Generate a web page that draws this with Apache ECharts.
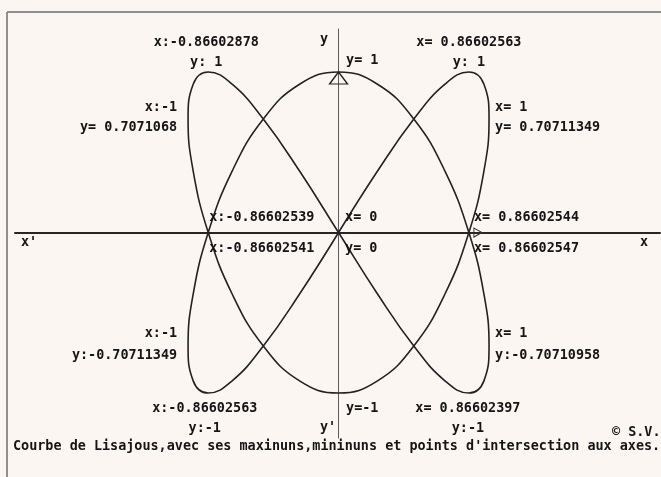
<!DOCTYPE html>
<html>
<head>
<meta charset="utf-8">
<style>
html,body{margin:0;padding:0;background:#fcf6f3;}
#c{width:661px;height:477px;}
</style>
<script src="https://cdn.jsdelivr.net/npm/echarts@6/dist/echarts.min.js"></script>
</head>
<body>
<div id="c"></div>
<script>
// Lissajous curve points (x, y in axis units)
const curveX = [0, 0.259, 0.5, 0.707, 0.866, 0.966, 1, 0.966, 0.866, 0.707, 0.5, 0.259,
  0, -0.259, -0.5, -0.707, -0.866, -0.966, -1, -0.966, -0.866, -0.707, -0.5, -0.259,
  0, 0.259, 0.5, 0.707, 0.866, 0.966, 1, 0.966, 0.866, 0.707, 0.5, 0.259,
  0, -0.259, -0.5, -0.707, -0.866, -0.966, -1, -0.966, -0.866, -0.707, -0.5, -0.259, 0];
const curveY = [0, 0.383, 0.707, 0.924, 1, 0.924, 0.707, 0.383, 0, -0.383, -0.707, -0.924,
  -1, -0.924, -0.707, -0.383, 0, 0.383, 0.707, 0.924, 1, 0.924, 0.707, 0.383,
  0, -0.383, -0.707, -0.924, -1, -0.924, -0.707, -0.383, 0, 0.383, 0.707, 0.924,
  1, 0.924, 0.707, 0.383, 0, -0.383, -0.707, -0.924, -1, -0.924, -0.707, -0.383, 0];

// Annotated points (maxima, minima, axis intersections)
const markX = [-0.866, 0, 0.866, -1, 1, -0.866, 0, 0.866, -1, 1, -0.866, 0, 0.866];
const markY = [1, 1, 1, 0.707, 0.707, 0, 0, 0, -0.707, -0.707, -1, -1, -1];
const markText = [
  "x:-0.86602878\ny: 1",
  "y= 1",
  "x= 0.86602563\ny: 1",
  "x:-1\ny= 0.7071068",
  "x= 1\ny= 0.70711349",
  "x:-0.86602539\nx:-0.86602541",
  "x= 0\ny= 0",
  "x= 0.86602544\nx= 0.86602547",
  "x:-1\ny:-0.70711349",
  "x= 1\ny:-0.70710958",
  "x:-0.86602563\ny:-1",
  "y=-1",
  "x= 0.86602397\ny:-1"
];
const axisNames = ["x'", "x", "y", "y'"];
const credit = "© S.V.";
const caption = "Courbe de Lisajous,avec ses maxinuns,mininuns et points d'intersection aux axes.";

// label layout: [align, verticalAlign, dx, dy, lineHeight]
const markLayout = [
  ['center', 'bottom', -2, 0, 20],
  ['left', 'middle', 7.5, -12, 20],
  ['center', 'bottom', 0, 0, 20],
  ['right', 'middle', -11, -2, 20],
  ['left', 'middle', 6, -2, 20],
  ['left', 'middle', 1, 0, 31],
  ['left', 'middle', 6.5, 0, 31],
  ['left', 'middle', 5, 0, 31],
  ['right', 'middle', -11, -2, 22],
  ['left', 'middle', 6, -2, 22],
  ['center', 'top', -3.5, 5, 20],
  ['left', 'middle', 7.5, 15, 20],
  ['center', 'top', -1, 5, 20]
];

const FONT = '"DejaVu Sans Mono", "Liberation Mono", monospace';
const INK = '#151515';
const FS = 13.45;

const chart = echarts.init(document.getElementById('c'), null, {renderer: 'canvas'});

const curveData = curveX.map((x, i) => [x, curveY[i]]);
const markData = markX.map((x, i) => ({
  value: [x, markY[i]],
  label: {
    formatter: markText[i],
    align: markLayout[i][0],
    verticalAlign: markLayout[i][1],
    offset: [markLayout[i][2], markLayout[i][3]],
    lineHeight: markLayout[i][4]
  }
}));

const txt = (text, x, y, extra) => ({
  type: 'text', x: x, y: y, silent: true,
  style: Object.assign({text: text, font: 'bold ' + FS + 'px ' + FONT, fill: INK, verticalAlign: 'middle', align: 'left'}, extra || {})
});

chart.setOption({
  backgroundColor: '#fcf6f3',
  animation: false,
  grid: {left: 15, right: 1, top: 29, bottom: 39},
  xAxis: {
    type: 'value', min: -2.15, max: 2.136,
    axisLine: {onZero: true, lineStyle: {color: '#262626', width: 2}},
    axisTick: {show: false}, axisLabel: {show: false}, splitLine: {show: false}
  },
  yAxis: {
    type: 'value', min: -1.28, max: 1.268,
    axisLine: {show: true, onZero: true, lineStyle: {color: '#5a5a5a', width: 1}},
    axisTick: {show: false}, axisLabel: {show: false}, splitLine: {show: false}
  },
  series: [
    {
      type: 'line', data: curveData, smooth: 0.45, showSymbol: false, silent: true,
      lineStyle: {color: '#222222', width: 1.6}, z: 3
    },
    {
      type: 'scatter', silent: true, z: 5,
      data: [[0, 1]], symbol: 'triangle', symbolSize: [18, 12], symbolOffset: [0, 6],
      itemStyle: {color: 'rgba(0,0,0,0)', borderColor: '#222222', borderWidth: 1.3, opacity: 1}
    },
    {
      type: 'scatter', silent: true, z: 5,
      data: [[0.866, 0]], symbol: 'triangle', symbolSize: [9, 8], symbolRotate: -90, symbolOffset: [9, 0],
      itemStyle: {color: 'rgba(0,0,0,0)', borderColor: '#333333', borderWidth: 1, opacity: 1}
    },
    {
      type: 'scatter', silent: true, z: 6,
      symbolSize: 1, itemStyle: {color: 'rgba(0,0,0,0)', opacity: 1},
      data: markData,
      label: {
        show: true, position: 'inside', color: INK, textBorderWidth: 0,
        fontFamily: FONT, fontWeight: 'bold', fontSize: FS
      }
    }
  ],
  graphic: [
    {type: 'line', silent: true, shape: {x1: 7, y1: 12, x2: 661, y2: 12}, style: {stroke: '#8f8f8f', lineWidth: 2}},
    {type: 'line', silent: true, shape: {x1: 7, y1: 12, x2: 7, y2: 477}, style: {stroke: '#8f8f8f', lineWidth: 2}},
    txt(axisNames[0], 21, 243),
    txt(axisNames[1], 640, 243),
    txt(axisNames[2], 320, 40),
    txt(axisNames[3], 320, 428),
    txt(credit, 612, 433),
    txt(caption, 13, 447)
  ]
});
</script>
</body>
</html>
